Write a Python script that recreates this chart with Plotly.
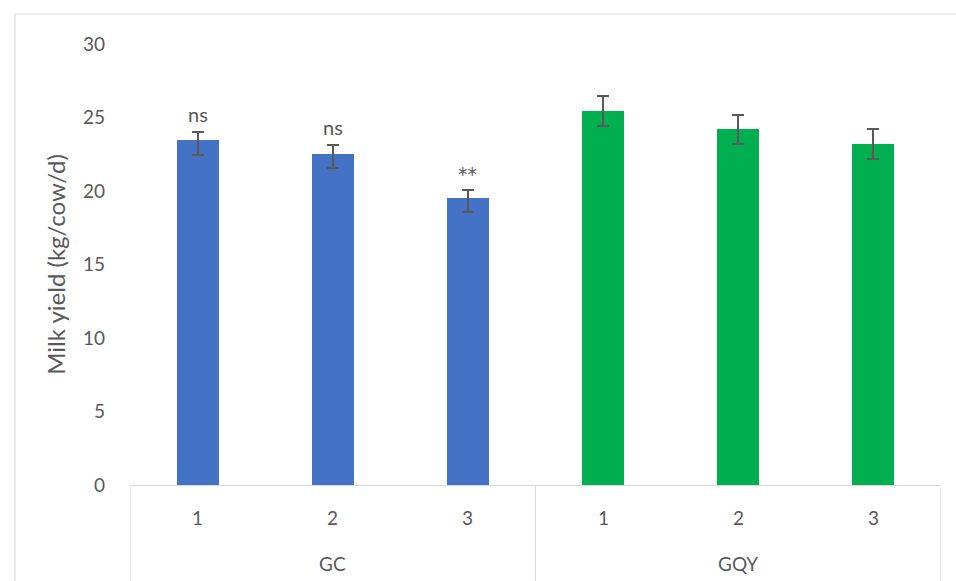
import plotly.graph_objects as go

groups = ["GC", "GQY"]
periods = ["1", "2", "3"]
gc_values = [23.45, 22.55, 19.55]
gqy_values = [25.45, 24.2, 23.2]
gc_err_plus = [0.55, 0.55, 0.55]
gc_err_minus = [1.0, 1.0, 1.0]
gqy_err = [1.0, 1.0, 1.0]
gc_marks = ["ns", "ns", "**"]
y_ticks = [0, 5, 10, 15, 20, 25, 30]

FONT = "Lato"
TXT = "#595959"
GRID = "#D9D9D9"

x_gc = [1, 2, 3]
x_gqy = [4, 5, 6]

fig = go.Figure()
fig.add_trace(go.Bar(
    x=x_gc, y=gc_values, width=0.31, marker=dict(color="#4472C4", line=dict(width=0)),
    error_y=dict(type="data", symmetric=False, array=gc_err_plus, arrayminus=gc_err_minus,
                 color=TXT, thickness=2, width=6),
    showlegend=False))
fig.add_trace(go.Bar(
    x=x_gqy, y=gqy_values, width=0.31, marker=dict(color="#00B050", line=dict(width=0)),
    error_y=dict(type="data", array=gqy_err, color=TXT, thickness=2, width=6),
    showlegend=False))

# significance marks
for xi, v, e, m in zip(x_gc, gc_values, gc_err_plus, gc_marks):
    if m == "**":
        fig.add_annotation(x=xi, y=v + e, text=m, showarrow=False, yanchor="middle",
                           yshift=16, font=dict(family="DejaVu Sans", size=19, color=TXT))
    else:
        fig.add_annotation(x=xi, y=v + e, text=m, showarrow=False, yanchor="bottom",
                           yshift=4, font=dict(family=FONT, size=20, color=TXT))

# category labels
for xi, p in zip(x_gc + x_gqy, periods + periods):
    fig.add_annotation(x=xi, y=-0.0726, xref="x", yref="paper", text=p, showarrow=False,
                       yanchor="middle", font=dict(family=FONT, size=19, color=TXT))
for xi, g in zip([2, 5], groups):
    fig.add_annotation(x=xi, y=-0.177, xref="x", yref="paper", text=g, showarrow=False,
                       yanchor="middle", font=dict(family=FONT, size=19, color=TXT))

# dividers
for xd in [0.5, 3.5, 6.5]:
    fig.add_shape(type="line", x0=xd, x1=xd, y0=0, y1=-0.3, xref="x", yref="paper",
                  line=dict(color=GRID, width=1), layer="below")

# chart border
fig.add_shape(type="rect", xref="paper", yref="paper", x0=-0.1418, x1=1.03, y0=-0.3, y1=1.068,
              line=dict(color=GRID, width=1), layer="below")

fig.update_layout(
    width=956, height=581,
    margin=dict(l=130, r=15, t=44, b=96),
    paper_bgcolor="white", plot_bgcolor="white",
    bargap=0,
    font=dict(family=FONT, color=TXT),
    xaxis=dict(range=[0.5, 6.5], showticklabels=False, showgrid=False, zeroline=False,
               showline=True, linecolor=GRID, linewidth=1, ticks=""),
    yaxis=dict(range=[0, 30], tickvals=y_ticks, showgrid=False, zeroline=False, showline=False,
               tickfont=dict(family=FONT, size=19, color=TXT), ticklabelstandoff=24,
               title=dict(text="Milk yield (kg/cow/d)", font=dict(family=FONT, size=24, color=TXT),
                          standoff=10)),
)

fig.write_html("out.html")
